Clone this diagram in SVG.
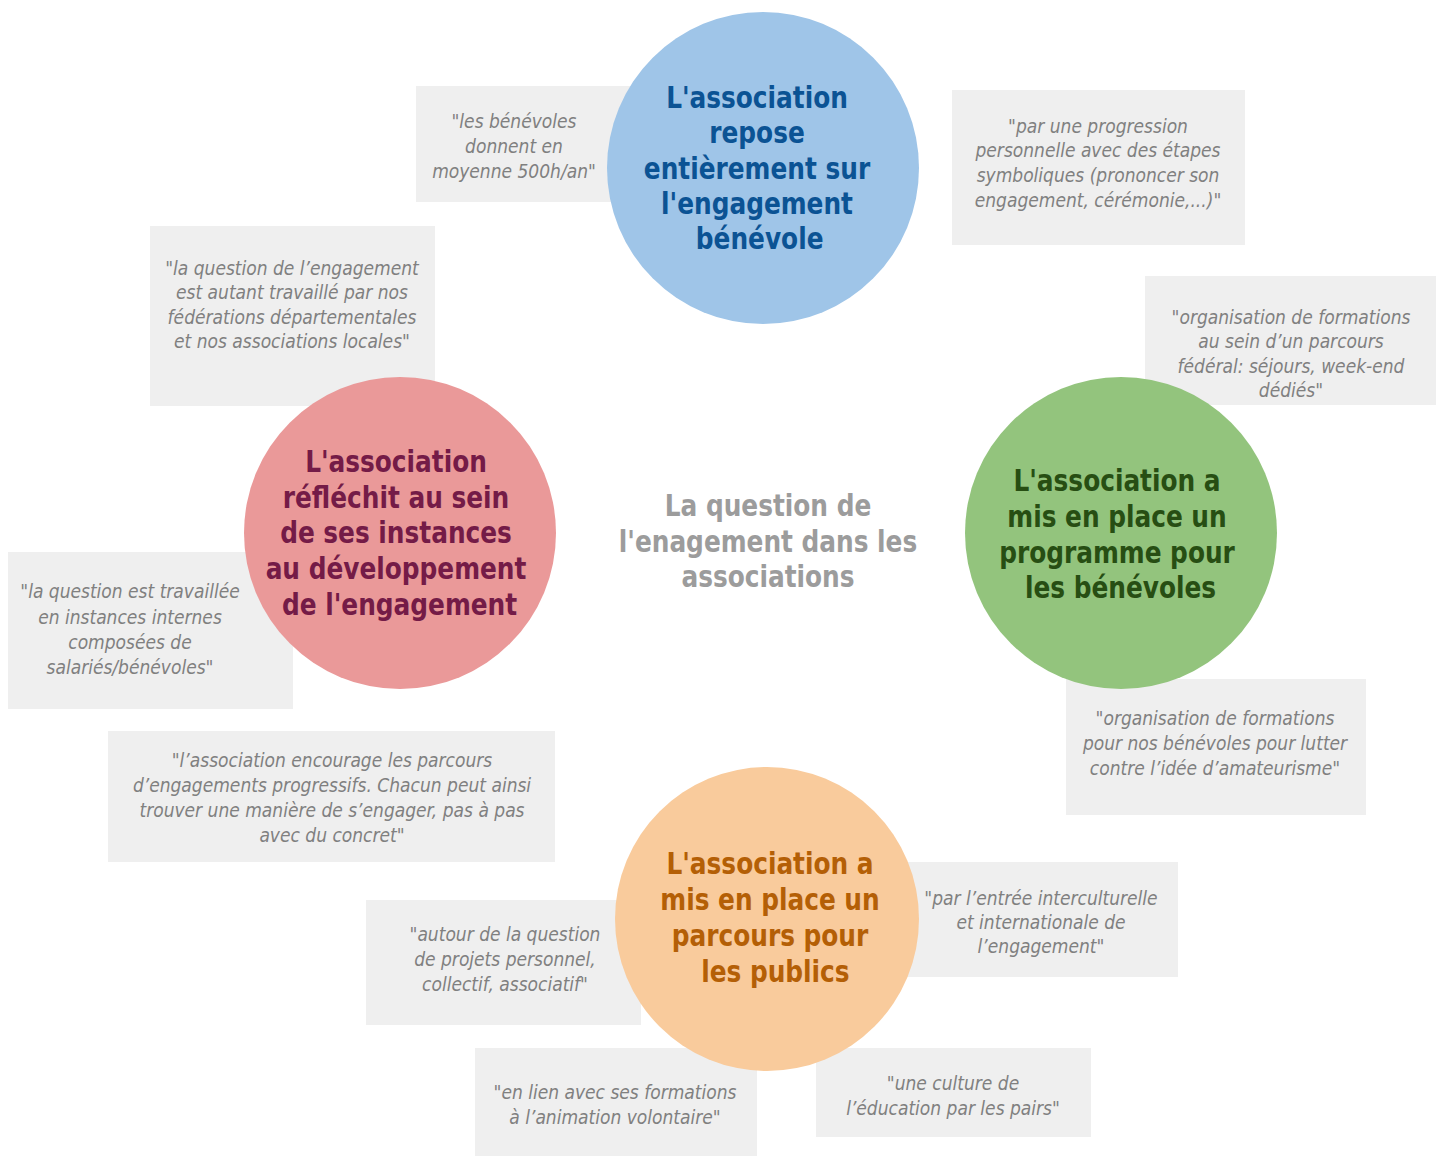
<svg xmlns="http://www.w3.org/2000/svg" width="1443" height="1156" viewBox="0 0 1443 1156">
<style>
.box{fill:#efefef}
.q{font-family:"DejaVu Sans Condensed","DejaVu Sans","Liberation Sans",sans-serif;font-stretch:condensed;font-style:italic;font-size:19px;fill:#808080;text-anchor:middle}
.t{font-family:"DejaVu Sans Condensed","DejaVu Sans","Liberation Sans",sans-serif;font-stretch:condensed;font-weight:bold;font-size:31px;text-anchor:middle}
.center{fill:#9c9c9c}
</style>
<rect width="1443" height="1156" fill="#ffffff"/>
<g id="connectors"></g>
<g id="quotes">
<g id="q1"><rect class="box" x="416" y="86" width="220" height="116"/>
<text class="q"><tspan x="514" y="128">"les bénévoles</tspan><tspan x="514" y="153">donnent en</tspan><tspan x="514" y="178">moyenne 500h/an"</tspan></text></g>
<g id="q2"><rect class="box" x="952" y="90" width="293" height="155"/>
<text class="q"><tspan x="1098" y="133">"par une progression</tspan><tspan x="1098" y="157">personnelle avec des étapes</tspan><tspan x="1098" y="182">symboliques (prononcer son</tspan><tspan x="1098" y="207">engagement, cérémonie,...)"</tspan></text></g>
<g id="q3"><rect class="box" x="1145" y="276" width="291" height="129"/>
<text class="q"><tspan x="1291" y="324">"organisation de formations</tspan><tspan x="1291" y="348">au sein d’un parcours</tspan><tspan x="1291" y="373">fédéral: séjours, week-end</tspan><tspan x="1291" y="397">dédiés"</tspan></text></g>
<g id="q4"><rect class="box" x="150" y="226" width="285" height="180"/>
<text class="q"><tspan x="292" y="275">"la question de l’engagement</tspan><tspan x="292" y="299">est autant travaillé par nos</tspan><tspan x="292" y="324">fédérations départementales</tspan><tspan x="292" y="348">et nos associations locales"</tspan></text></g>
<g id="q5"><rect class="box" x="8" y="552" width="285" height="157"/>
<text class="q"><tspan x="130" y="598">"la question est travaillée</tspan><tspan x="130" y="624">en instances internes</tspan><tspan x="130" y="649">composées de</tspan><tspan x="130" y="674">salariés/bénévoles"</tspan></text></g>
<g id="q6"><rect class="box" x="108" y="731" width="447" height="131"/>
<text class="q"><tspan x="332" y="767">"l’association encourage les parcours</tspan><tspan x="332" y="792">d’engagements progressifs. Chacun peut ainsi</tspan><tspan x="332" y="817">trouver une manière de s’engager, pas à pas</tspan><tspan x="332" y="842">avec du concret"</tspan></text></g>
<g id="q7"><rect class="box" x="1066" y="679" width="300" height="136"/>
<text class="q"><tspan x="1215" y="725">"organisation de formations</tspan><tspan x="1215" y="750">pour nos bénévoles pour lutter</tspan><tspan x="1215" y="775">contre l’idée d’amateurisme"</tspan></text></g>
<g id="q8"><rect class="box" x="366" y="900" width="275" height="125"/>
<text class="q"><tspan x="505" y="941">"autour de la question</tspan><tspan x="505" y="966">de projets personnel,</tspan><tspan x="505" y="991">collectif, associatif"</tspan></text></g>
<g id="q9"><rect class="box" x="905" y="862" width="273" height="115"/>
<text class="q"><tspan x="1041" y="905">"par l’entrée interculturelle</tspan><tspan x="1041" y="929">et internationale de</tspan><tspan x="1041" y="953">l’engagement"</tspan></text></g>
<g id="q10"><rect class="box" x="475" y="1048" width="282" height="108"/>
<text class="q"><tspan x="615" y="1099">"en lien avec ses formations</tspan><tspan x="615" y="1124">à l’animation volontaire"</tspan></text></g>
<g id="q11"><rect class="box" x="816" y="1048" width="275" height="89"/>
<text class="q"><tspan x="953" y="1090">"une culture de</tspan><tspan x="953" y="1115">l’éducation par les pairs"</tspan></text></g>
</g>
<g id="center-title" transform="translate(768 0) scale(0.89 1)">
<text class="t center"><tspan x="0" y="516">La question de</tspan><tspan x="0" y="552">l'enagement dans les</tspan><tspan x="0" y="587">associations</tspan></text>
</g>
<g id="node-blue">
<circle cx="763" cy="168" r="156" fill="#9fc5e8"/>
<g transform="translate(757 0) scale(0.89 1)">
<text class="t" fill="#0b5394"><tspan x="0" y="108">L'association</tspan><tspan x="0" y="143">repose</tspan><tspan x="0" y="179">entièrement sur</tspan><tspan x="0" y="214">l'engagement</tspan><tspan x="3" y="249">bénévole</tspan></text>
</g>
</g>
<g id="node-red">
<circle cx="400" cy="533" r="156" fill="#ea9999"/>
<g transform="translate(396 0) scale(0.89 1)">
<text class="t" fill="#741b47"><tspan x="0" y="472">L'association</tspan><tspan x="0" y="508">réfléchit au sein</tspan><tspan x="0" y="543">de ses instances</tspan><tspan x="0" y="579">au développement</tspan><tspan x="4" y="615">de l'engagement</tspan></text>
</g>
</g>
<g id="node-green">
<circle cx="1121" cy="533" r="156" fill="#93c47d"/>
<g transform="translate(1117 0) scale(0.89 1)">
<text class="t" fill="#274e13"><tspan x="0" y="491">L'association a</tspan><tspan x="0" y="527">mis en place un</tspan><tspan x="0" y="563">programme pour</tspan><tspan x="4" y="598">les bénévoles</tspan></text>
</g>
</g>
<g id="node-orange">
<circle cx="767" cy="919" r="152" fill="#f9cb9c"/>
<g transform="translate(770 0) scale(0.89 1)">
<text class="t" fill="#b45f06"><tspan x="0" y="874">L'association a</tspan><tspan x="0" y="910">mis en place un</tspan><tspan x="0" y="946">parcours pour</tspan><tspan x="6" y="982">les publics</tspan></text>
</g>
</g>
</svg>
